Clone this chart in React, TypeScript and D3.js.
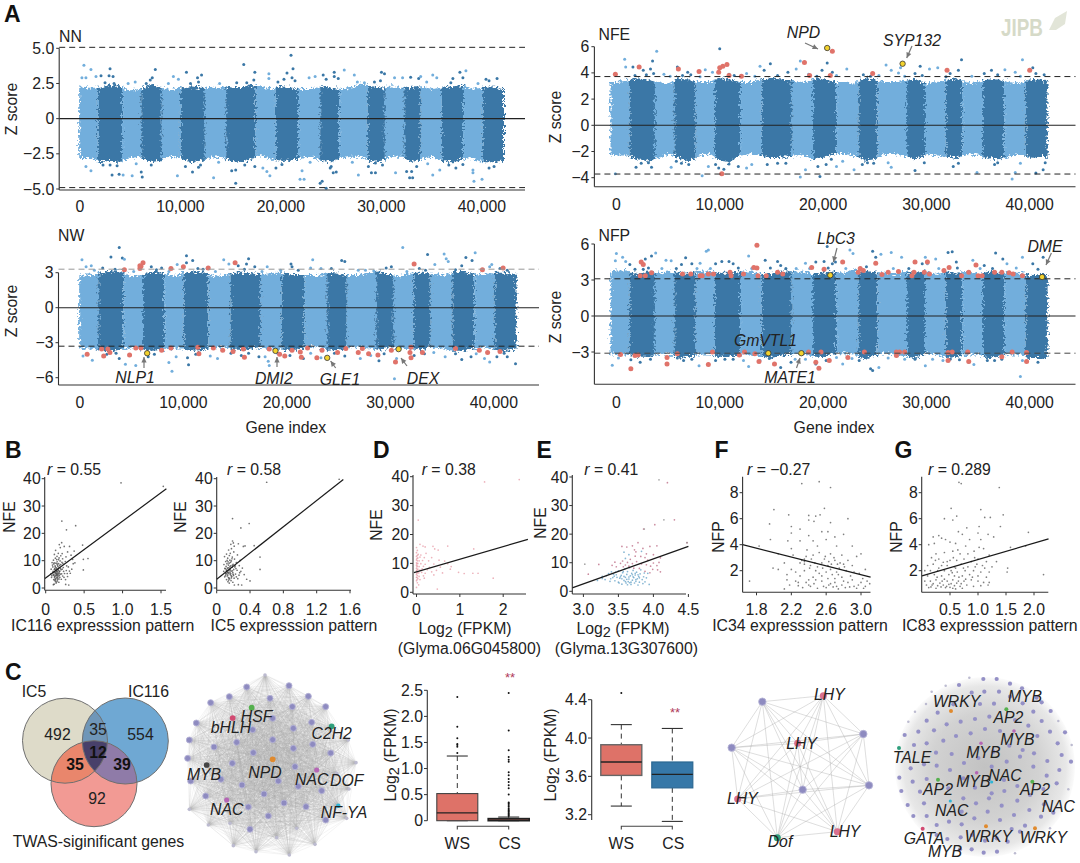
import React from "react";
import * as d3 from "d3";

type P = [number, number];
const SANS = '"Liberation Sans", Arial, sans-serif';
const INK = "#222";
const LIGHT = "#72aedc";
const DARK = "#3a77a6";
const RED = "#e0736a";
const YELLOW = "#f2d22e";

// ---- A: chromosome boundaries (gene index, thousands) ----
const chromLeft = [-0.07, 1.78, 4.2, 6.1, 8.15, 10.03, 12.43, 14.55, 17.47, 19.49, 21.71, 23.9, 25.79, 28.63, 30.34, 32.26, 33.9, 36, 38.12, 40.07, 42.19];
const chromRight = [-0.57, 1.27, 3.73, 5.6, 7.67, 9.53, 11.97, 14.07, 16.97, 19.03, 21.27, 23.43, 25.27, 28.13, 29.87, 31.87, 33.47, 35.47, 37.53, 39.6, 41.73];

// ---- band edge at each 1,000 genes ----
const nnTop = [2.3,2.2,2.2,2.4,2.3,2.0,2.1,2.4,2.2,2.1,2.2,2.3,2.2,2.2,2.2,2.3,2.2,2.4,2.3,2.1,2.3,2.2,2.1,2.1,2.3,2.2,2.1,2.2,2.5,2.3,2.2,2.3,2.2,2.2,2.3,2.1,2.2,2.3,2.4,2.1,2.2,2.3,2.1];
const nnBot = [-2.8,-2.8,-3.1,-3.0,-3.1,-2.8,-2.7,-3.1,-3.0,-2.7,-2.8,-3.1,-3.0,-2.8,-2.7,-3.0,-3.1,-2.9,-2.6,-2.9,-3.0,-3.0,-2.8,-2.7,-3.0,-3.1,-2.8,-2.7,-2.7,-3.1,-3.0,-2.7,-2.7,-3.1,-2.9,-2.7,-3.0,-3.1,-2.9,-2.8,-3.1,-3.1,-3.0];
const nfeTop = [3.3,3.4,3.6,3.5,3.3,3.2,3.6,3.5,3.3,3.3,3.6,3.5,3.3,3.3,3.5,3.6,3.5,3.4,3.3,3.5,3.6,3.3,3.3,3.2,3.6,3.5,3.3,3.3,3.4,3.5,3.2,3.3,3.5,3.6,3.2,3.3,3.5,3.5,3.3,3.2,3.5,3.5,3.3];
const nfeBot = [-2.3,-2.3,-2.6,-2.7,-2.5,-2.2,-2.5,-2.8,-2.3,-2.2,-2.7,-2.8,-2.3,-2.2,-2.3,-2.5,-2.5,-2.3,-2.3,-2.6,-2.5,-2.2,-2.2,-2.3,-2.7,-2.6,-2.2,-2.2,-2.4,-2.6,-2.2,-2.3,-2.4,-2.5,-2.2,-2.3,-2.5,-2.6,-2.4,-2.2,-2.5,-2.4,-2.4];
const nwTop = [2.7,2.8,3.0,3.1,3.1,2.7,2.8,3.1,3.0,2.7,3.0,3.1,3.0,2.7,2.8,3.0,3.0,2.9,2.9,3.0,2.9,2.8,2.8,2.8,3.0,2.9,2.8,2.8,3.0,3.1,2.8,2.7,3.0,3.0,2.9,2.8,3.0,3.1,2.9,2.8,3.0,3.0,2.9];
const nwBot = [-3.5,-3.5,-3.6,-3.7,-3.6,-3.4,-3.6,-3.7,-3.6,-3.5,-3.5,-3.7,-3.6,-3.4,-3.4,-3.6,-3.6,-3.4,-3.5,-3.6,-3.6,-3.6,-3.4,-3.4,-3.7,-3.6,-3.4,-3.4,-3.5,-3.6,-3.4,-3.5,-3.6,-3.6,-3.4,-3.5,-3.7,-3.7,-3.5,-3.4,-3.6,-3.7,-3.6];
const nfpTop = [3.8,3.8,3.5,3.7,3.6,3.7,3.6,3.5,3.7,3.7,3.6,3.6,3.7,3.7,3.5,3.5,3.7,3.7,3.7,3.5,3.6,3.7,3.6,3.9,3.7,3.7,3.6,3.5,3.7,3.6,3.7,3.5,3.7,3.6,3.7,3.5,3.7,3.6,3.6,3.6,3.4,3.5,3.5];
const nfpBot = [-3.2,-3.2,-3.4,-3.4,-3.2,-3.1,-3.5,-3.4,-3.2,-3.2,-3.4,-3.4,-3.2,-3.2,-3.4,-3.5,-3.3,-3.2,-3.1,-3.4,-3.4,-3.1,-3.1,-3.2,-3.6,-3.3,-3.1,-3.2,-3.4,-3.5,-3.1,-3.2,-3.5,-3.4,-3.2,-3.2,-3.5,-3.4,-3.2,-3.2,-3.5,-3.5,-3.5];

// ---- outlying genes [index in thousands, z] ----
const nnPts: P[] = [[0.4,3.8],[1.1,3.5],[3.0,3.55],[0.2,2.9],[0.6,2.9],[1.6,3.0],[2.1,3.05],[2.9,3.05],[3.3,3.0],[7.5,3.5],[7.2,2.9],[7.0,2.75],[9.3,3.0],[9.8,2.8],[10.6,3.3],[11.7,2.9],[12.1,3.1],[11.8,2.6],[16.3,3.85],[17.4,3.3],[17.3,2.75],[18.8,3.2],[18.8,2.85],[21.0,4.5],[21.2,3.55],[20.6,3.25],[20.3,2.8],[21.1,2.9],[21.4,2.7],[22.8,2.9],[23.4,3.0],[24.2,3.1],[24.5,2.8],[25.3,3.3],[25.3,3.0],[25.7,2.85],[26.3,3.45],[27.3,3.1],[30.0,3.3],[30.3,3.2],[29.9,2.7],[31.3,2.9],[32.1,2.9],[32.9,2.95],[33.9,3.0],[33.7,2.85],[35.1,3.1],[35.5,2.9],[37.1,2.85],[37.8,3.3],[38.4,3.4],[38.1,2.9],[40.4,2.8],[41.5,2.85],[40.7,2.7],[2.5,2.55],[3.4,2.5],[5.5,2.6],[4.8,2.5],[6.6,2.5],[8.8,2.5],[11.0,2.5],[13.9,2.5],[15.6,2.55],[16.6,2.55],[19.7,2.6],[27.6,2.6],[28.3,2.55],[29.3,2.6],[34.5,2.6],[36.9,2.55],[39.6,2.5],
[1.1,-3.7],[0.6,-3.4],[3.2,-4.0],[3.9,-3.95],[4.3,-4.0],[3.7,-3.35],[5.2,-4.05],[6.2,-4.15],[6.1,-3.8],[9.7,-4.05],[11.2,-3.8],[10.5,-3.4],[13.3,-4.2],[15.1,-3.7],[15.5,-3.65],[15.5,-4.6],[17.4,-3.4],[18.2,-3.5],[18.9,-4.05],[18.6,-3.75],[19.5,-3.5],[20.1,-3.25],[21.9,-4.3],[22.3,-4.3],[22.1,-3.7],[24.1,-4.45],[23.9,-4.6],[24.5,-4.95],[25.2,-3.85],[25.5,-3.8],[25.0,-3.4],[27.7,-4.0],[29.0,-3.85],[29.4,-3.85],[28.7,-3.4],[29.4,-3.15],[31.4,-3.85],[32.8,-4.2],[33.1,-4.2],[32.5,-3.75],[33.0,-3.75],[33.5,-3.4],[35.1,-4.0],[35.8,-3.65],[37.4,-3.5],[38.1,-3.25],[39.1,-3.65],[39.2,-4.45],[40.0,-4.3],[39.1,-3.85],[40.7,-3.5],[41.2,-3.4],[2.3,-3.3],[3.0,-3.3],[5.6,-3.2],[7.1,-3.3],[11.8,-3.45],[12.0,-3.3],[13.8,-3.1],[16.4,-3.3],[22.9,-3.1],[24.9,-3.5],[27.1,-3.1],[30.1,-3.3],[34.6,-3.2],[36.7,-3.3]];
const nfePts: P[] = [[0.8,5.05],[3.9,5.65],[3.5,4.9],[10,5.85],[14.9,4.7],[13.9,4.5],[17.8,4.9],[17.4,4.3],[20.4,4.75],[19.9,4.2],[20.9,4.05],[22.3,4.3],[26.1,4.6],[26.6,4.2],[27.3,4.0],[27.5,4.4],[29.4,4.5],[30.3,4.3],[31.1,4.4],[33.4,5.0],[39.3,5.0],[37.6,4.25],[38.6,4.05],[0.9,4.45],[1.6,4.45],[2.6,4.2],[3.3,4.3],[3.6,3.95],[5.9,4.45],[6.9,4.05],[8.6,4.25],[9.3,4.05],[14.3,4.2],[16.6,4.05],[32.3,3.95],[33.1,4.2],[35.6,3.95],[36.3,4.2],[40.3,4.4],[40.6,3.95],[41.4,3.85],[4.6,3.9],[12.6,3.95],[23.9,3.85],[28.9,3.95],[1.8,3.8],[2.9,3.85],[5.2,3.75],[6.4,3.8],[7.2,3.85],[8.1,3.7],[10.9,3.9],[11.4,3.8],[13.4,3.75],[15.6,3.8],[18.6,3.9],[19.4,3.75],[21.3,3.8],[24.6,3.75],[25.4,3.8],[27.9,3.75],[29.6,3.8],[31.9,3.7],[34.4,3.75],[36.9,3.85],[39.1,3.75],
[-0.1,-3.7],[1.9,-3.2],[3.4,-3.2],[5.3,-3.2],[5.8,-2.75],[8.3,-3.85],[8.9,-3.15],[9.6,-3.0],[9.9,-3.25],[10.4,-3.35],[11.8,-3.15],[12.6,-3.25],[13.1,-3.0],[14.6,-3.0],[15.6,-2.9],[17.8,-3.95],[18.3,-3.4],[19.7,-3.9],[19.5,-3.15],[20.3,-3.0],[21.3,-3.15],[21.9,-2.75],[23,-3.4],[23.8,-3.0],[24.3,-2.85],[26.3,-2.85],[26.6,-3.2],[28.9,-3.45],[29.8,-2.85],[32.6,-3.15],[33.1,-2.9],[34.9,-3.6],[36.6,-3.0],[38.3,-4.1],[38.6,-3.6],[40.6,-3.65],[41.3,-3.4],[41.5,-2.85],[39.1,-2.9],[2.4,-2.9],[3.1,-2.85],[6.3,-2.9],[7.0,-3.0],[10.9,-2.95],[16.4,-2.9],[20.8,-2.6],[24.9,-2.9],[36.9,-2.85]];
const nwPts: P[] = [[0.2,4.1],[3.8,5.15],[3,4.35],[4.1,4.25],[4.3,4.15],[2.2,3.4],[0.6,3.5],[1.1,3.6],[10.3,4.45],[10.9,4.05],[10.3,3.85],[9.4,3.7],[11.4,3.35],[13.9,4.1],[14.4,3.75],[16.3,4.2],[16.1,3.75],[15.3,3.6],[18.1,3.5],[20.4,3.75],[20.5,3.5],[22.5,4.1],[22.3,3.4],[25.3,4.05],[25.6,3.95],[26.9,3.2],[31.2,5.15],[33.6,4.55],[35.2,4.6],[35.4,4.2],[35.6,3.95],[37.3,4.3],[38.2,4.7],[37.9,4.05],[39.6,3.5],[39.8,3.7],[36.9,3.6],[34.3,3.7],[29.6,3.4],[30.1,3.5],[32.8,3.35],[40.6,3.35],[7.9,3.4],[6.9,3.5],[12.3,3.35],[16.9,3.5],[23.3,3.35],[24.3,3.35],[27.6,3.2],[1.4,3.2],[3.4,3.3],[5.2,3.1],[7.4,3.25],[8.6,3.1],[11.9,3.3],[13.1,3.1],[15.9,3.3],[17.6,3.1],[19.4,3.2],[21.1,3.2],[28.4,3.15],[31.6,3.1],[33.4,3.2],[36.3,3.25],[41.3,3.2],
[1.2,-4.5],[0.3,-4.15],[3.8,-4.35],[4.4,-4.85],[5.4,-4.95],[6.6,-4.2],[8.9,-5.45],[8.6,-4.7],[9.3,-4.2],[10.4,-4.3],[10.5,-4.9],[13.3,-4.35],[12.6,-4.15],[15.6,-4.1],[17.3,-4.2],[17.9,-4.2],[18.2,-4.6],[18.3,-4.95],[20.3,-4.1],[21.6,-4.35],[23.3,-4.3],[27.1,-4.35],[28.9,-4.55],[30.4,-6.1],[30.6,-4.35],[32.3,-4.1],[33.3,-3.95],[35.3,-4.2],[36.9,-4.45],[37.8,-4.2],[39.1,-4.35],[39.6,-4.65],[40.3,-4.2],[42.1,-4.8],[41.3,-4.2],[38.3,-3.95],[25.6,-4.15],[28.1,-4.1],[2.6,-4.0],[3.5,-3.9],[7.2,-4.0],[11.2,-4.0],[14.6,-3.9],[16.3,-3.9],[19.1,-3.9],[22.3,-3.9],[24.6,-3.9],[29.4,-3.95],[34.2,-3.85],[36.3,-3.95],[41.0,-3.9]];
const nfpPts: P[] = [[0,5.2],[0.6,4.9],[-0.1,4.6],[0.9,4.55],[2.8,4.75],[3.8,5.25],[3.4,5.0],[1.3,4.3],[2.6,3.9],[4.8,4.65],[5.3,4.6],[6.3,4.3],[6.7,4.85],[7.3,4.35],[8.7,5.4],[8.9,5.5],[8.1,4.4],[9.6,4.35],[10.2,4.55],[10.9,4.55],[11.3,4.35],[12.8,5.0],[14.4,4.65],[15.6,4.55],[15.9,4.2],[18.3,4.4],[19.3,4.5],[20.4,5.8],[20.1,4.55],[20.9,4.35],[21.2,4.5],[22.6,5.5],[22.9,5.2],[24.8,5.4],[25.1,4.9],[25.6,5.15],[26.6,5.3],[27.6,4.9],[29.6,4.35],[30.1,4.35],[29.9,4.9],[30.9,4.75],[32.1,5.3],[32.5,5.35],[32.9,4.5],[34.5,4.65],[35.6,4.2],[36.7,5.25],[37.4,4.75],[37.8,4.35],[39.3,4.9],[40.3,4.35],[41.3,4.9],[1.8,3.9],[3.1,4.0],[4.4,3.95],[5.8,3.95],[7.8,3.95],[9.1,3.95],[11.8,4.0],[13.1,3.95],[14.9,4.0],[16.4,3.95],[17.4,3.95],[18.7,3.95],[20.5,4.0],[22.2,3.95],[24.2,4.1],[26.8,3.95],[28.3,3.95],[31.2,3.95],[33.0,4.0],[35.2,3.95],[36.4,3.95],[38.7,4.0],[40.8,3.9],
[-0.4,-4.1],[0.2,-3.5],[1.4,-3.65],[2.3,-3.85],[3.3,-3.6],[4.9,-4.0],[5.9,-3.5],[8,-4.15],[8.9,-4.0],[9.6,-3.7],[11.3,-3.6],[12.3,-3.7],[12.8,-4.2],[13.9,-3.7],[15.3,-4.0],[15.9,-4.3],[16.9,-3.85],[18.3,-3.6],[19.3,-4.0],[20.3,-3.7],[21.3,-3.45],[21.9,-4.0],[24.6,-4.4],[24.8,-4.55],[25.4,-4.3],[27.9,-3.6],[28.9,-3.6],[29.9,-4.15],[31.6,-3.7],[32.3,-3.6],[34.1,-3.85],[34.6,-4.05],[35.9,-3.7],[37.3,-3.6],[39.1,-5.05],[39.3,-3.7],[40.8,-3.85],[41.3,-3.45],[6.5,-3.7],[7.3,-3.6],[10.5,-3.6],[14.8,-3.55],[17.3,-3.6],[22.8,-3.55],[23.5,-3.7],[26.3,-3.5],[30.6,-3.6],[33.2,-3.65],[36.6,-3.7]];

const nfeRed: P[] = [[-0.1,3.9],[2.2,4.45],[6,4.3],[8,4.1],[10,4.4],[9.9,4.05],[10.3,4.5],[10.7,4.65],[10.9,3.8],[12.1,3.75],[18.2,4.8],[18.7,3.8],[20.7,3.8],[20.9,5.65],[24.8,3.95],[32,4.2],[40,4.2],[10.2,-3.7]];
const nwRed: P[] = [[4.3,3.25],[5.8,3.35],[5.9,3.55],[6.1,3.85],[5.8,3.6],[8.8,3.35],[10,3.5],[12.4,3.4],[15,3.85],[32.3,3.75],[38.9,3.25],[40.9,3.4],[0.7,-4],[2.3,-4.15],[2.1,-3.55],[2.7,-3.55],[2.9,-3.85],[4.8,-4.05],[5.4,-3.45],[5.9,-3.45],[7.9,-3.65],[8.8,-3.45],[11.4,-3.4],[11.5,-3.95],[12.9,-3.45],[13.8,-3.65],[14.8,-3.75],[15.8,-3.55],[15.9,-4.25],[18.3,-3.55],[19.3,-4.0],[19.8,-4.15],[20.5,-3.65],[21.3,-3.8],[21.4,-4.25],[22,-3.45],[22.9,-4.3],[23.4,-3.65],[24.9,-3.85],[25.7,-3.5],[26.9,-3.85],[27.3,-3.5],[27.9,-3.95],[28.8,-4.05],[30.1,-3.65],[30.5,-4.65],[31.9,-3.85],[32,-3.4],[32,-4.3],[33.1,-3.85],[36.3,-3.5],[38.6,-3.65],[39.4,-3.85],[40.6,-3.75]];
const nfpRed: P[] = [[13.6,5.9],[1.4,-4.4],[2.4,4.5],[2.6,4.3],[2.3,3.35],[2.8,3.35],[3.4,3.6],[6.4,3.5],[7.2,3.5],[8.1,3.35],[8.3,3.35],[8.9,3.5],[9.4,3.5],[11,3.65],[11.1,3.35],[12.3,3.5],[13.3,4.05],[13.6,4.0],[13.7,3.35],[14.5,3.35],[15.6,3.65],[16.1,3.5],[18.9,4.05],[20.1,3.9],[21.9,4.5],[23.6,3.95],[23.4,3.65],[23.9,3.8],[25.7,3.45],[25.1,4.4],[26.3,3.65],[27.3,3.7],[28.9,4.5],[28.8,3.65],[28.6,3.35],[30.1,4.5],[29.8,3.65],[30.3,3.5],[31.7,3.8],[32.2,4.05],[33.4,3.35],[34.1,3.65],[34.8,4.25],[35,3.35],[35.4,3.35],[36.6,3.65],[37.3,3.65],[38,3.6],[38.4,3.5],[39.3,3.35],[0.4,-3.2],[1.8,-3.3],[2.1,-3.25],[4.9,-3.45],[4.9,-4.0],[5.9,-3.15],[8.9,-4.05],[9.3,-3.0],[11.9,-3.25],[12.4,-3.0],[13.4,-3.15],[13.8,-3.8],[15.3,-4.0],[18.6,-3.0],[19.3,-3.85],[19.6,-4.35],[20.6,-3.7],[19.8,-3.0],[22.4,-3.45],[24,-3.0],[27.1,-3.0],[27.4,-3.0],[27.9,-3.0],[27.1,-3.3],[32.1,-3.05],[32.1,-3.7],[32.5,-3.0],[34,-3.0],[34.1,-3.8],[37.3,-3.4],[38.3,-3.0],[39.7,-3.05],[39.7,-3.8]];
const nfeGold: P[] = [[20.4,5.9],[27.7,4.7]];
const nwGold: P[] = [[6.5,-3.9],[18.9,-3.7],[23.9,-4.3],[30.8,-3.55]];
const nfpGold: P[] = [[20.7,3.4],[41.2,3.25],[14.7,-3.1],[17.9,-3.1]];

// ---- B, D, E, F, G scatter values ----
const b1Pts: P[] = [[.21,24.5],[.27,21.3],[.39,22.8],[.98,38.5],[1.53,37.2],[.48,15.7],[.55,10.8],[.49,10.5],[.49,6.6],[.3,1.1],[.26,1.3],[.1,1.2],[.137,6.3],[.162,5.1],[.093,7.7],[.211,9.4],[.118,4.2],[.174,3.3],[.148,8.8],[.067,5.2],[.233,6.1],[.126,10.9],[.189,7.2],[.104,3.1],[.151,4.7],[.083,9.3],[.273,8.1],[.141,2.2],[.196,11.8],[.112,6.8],[.158,7.9],[.221,4.4],[.131,5.6],[.176,5.9],[.098,4.9],[.164,12.7],[.245,5.3],[.122,8.1],[.143,3.7],[.187,9.9],[.071,6.9],[.203,3.2],[.155,6.6],[.116,2.9],[.309,6.2],[.129,13.8],[.178,4.6],[.108,5.7],[.167,10.4],[.255,9.7],[.137,7.4],[.152,2.6],[.088,8.4],[.199,6.7],[.124,4.5],[.182,8.3],[.146,5.2],[.101,10.2],[.229,7.5],[.171,2.1],[.133,9.1],[.284,4.2],[.159,5.5],[.119,7.1],[.192,5.1],[.076,3.9],[.147,11.6],[.214,12.6],[.127,3.4],[.169,6.4],[.339,6.9],[.106,8.8],[.184,3.9],[.141,6],[.258,3.1],[.096,6.1],[.153,8.4],[.121,5.1],[.173,7.6],[.207,5.2],[.135,1.8],[.113,12.3],[.264,11.4],[.149,4.1],[.19,14.8],[.161,6.9],[.128,6.6],[.144,5],[.175,5.3],[.115,3.8],[.223,9],[.156,3.2],[.208,16.6],[.241,15.2],[.177,15.9],[.31,15.2],[.285,13.2],[.358,8.9],[.33,12],[.37,13.5],[.295,7.7],[.32,5.4],[.11,1.4],[.134,5.4],[.152,6],[.117,5.9],[.166,4.4],[.139,4.6],[.125,7.7],[.158,3.7],[.104,4.6],[.183,6.1],[.145,7],[.13,3],[.168,8.9],[.214,6.9],[.094,5.6],[.238,3.9],[.126,2.4],[.196,8.6],[.149,9.6],[.11,9.2],[.268,6.4],[.08,4.5],[.143,10.4],[.174,11],[.22,10.7],[.35,10.5],[.38,9.2],[.28,5.3]];
const b2Pts: P[] = [[.6,38.7],[1.47,39.8],[.19,25.4],[.39,23.6],[.29,22],[.45,15.5],[.32,15.2],[.26,16.2],[.34,15.4],[.19,17.2],[.2,16.5],[.17,16],[.21,15.3],[.52,11.3],[.52,6.8],[.4,2.6],[.26,1.2],[.3,1.1],[.177,14.4],[.143,13.9],[.205,13.2],[.118,12.4],[.163,12.7],[.249,12.1],[.187,11.3],[.094,11.5],[.132,10.9],[.214,10.6],[.158,10.2],[.282,10.1],[.108,9.7],[.176,9.9],[.123,8.9],[.236,9.3],[.149,9.1],[.197,8.7],[.087,8.6],[.271,8.2],[.166,8.1],[.113,7.9],[.218,7.7],[.139,7.4],[.186,7.6],[.098,7.2],[.308,7.3],[.154,6.9],[.121,6.6],[.204,6.8],[.174,6.2],[.245,6.5],[.131,5.9],[.084,6.1],[.193,5.6],[.147,5.4],[.109,5.3],[.226,5.1],[.162,4.9],[.268,4.7],[.127,4.4],[.182,4.2],[.141,3.8],[.096,4.1],[.209,3.6],[.155,3.3],[.118,3.1],[.253,3.4],[.172,2.7],[.135,2.3],[.194,2.1],[.151,1.8],[.212,1.1],[.128,7.3],[.168,5.3],[.146,6.4],[.112,5.1],[.189,6.3],[.133,4.8],[.158,7.7],[.104,7],[.202,4.6],[.176,3.7],[.141,8.4],[.166,9.4],[.125,10.1],[.183,10.7],[.221,8.1],[.29,6.1],[.33,4.9],[.36,3.2],[.159,5.8],[.116,6.3],[.138,5.6],[.173,4.5],[.149,3.6],[.124,5.5],[.197,5],[.105,4.5],[.231,7.1],[.162,6.6],[.187,8.3],[.136,9.6],[.152,11.9],[.236,4.1],[.276,5.6],[.144,2.9]];
const dPts: P[] = [[.04,25],[1.57,38.2],[2.37,39],[.0,15.5],[.08,16.6],[.15,16],[.2,15.7],[.38,15.9],[.42,15],[.72,16],[.5,14.6],[1.32,15],[.02,14.5],[.0,13.7],[.04,13.1],[.1,12.9],[.22,13.5],[.0,12.4],[.03,11.9],[.08,12.2],[.18,12],[.35,12],[.0,11.2],[.02,10.9],[.06,10.9],[.14,11],[.28,10.9],[.52,11.1],[.65,10.8],[.0,10.2],[.03,10],[.1,9.9],[.2,9.7],[.4,9.8],[.72,9.9],[.0,9.4],[.02,9.1],[.06,8.9],[.16,9],[.3,8.6],[.55,8.7],[.8,8.9],[.0,8.3],[.03,8],[.08,7.7],[.13,8.1],[.25,7.8],[.46,7.6],[.78,8],[.0,7.4],[.02,7],[.05,6.7],[.12,6.9],[.2,6.6],[.35,7.1],[.6,6.7],[.97,6.9],[1.1,6.5],[1.42,6.6],[.0,6.2],[.02,5.8],[.06,5.5],[.16,5.7],[.4,6],[.0,5.2],[.03,4.7],[.08,4.4],[.18,4.9],[1.77,4.9],[1.3,6.6],[.0,4],[.02,3.3],[.05,2.6],[.0,1.7],[.48,1.1],[.01,8.8],[.01,9.9],[.01,6.6],[.01,11.7],[.01,5.1],[.01,7.7],[.02,12.8],[.01,4.3]];
const eBlue: P[] = [[3.27,4.5],[3.33,5.5],[3.36,6.2],[3.4,6.8],[3.42,4.8],[3.45,3.7],[3.47,5.8],[3.5,7.2],[3.5,3.2],[3.52,4.6],[3.54,5.6],[3.55,2.5],[3.56,6.5],[3.58,3.8],[3.59,7.8],[3.6,4.9],[3.61,2.9],[3.62,5.9],[3.63,6.9],[3.64,3.4],[3.65,4.3],[3.66,8.3],[3.67,5.4],[3.68,2.4],[3.69,6.3],[3.7,3.9],[3.71,7.3],[3.72,4.8],[3.73,2.9],[3.74,5.7],[3.75,3.5],[3.76,6.7],[3.77,4.4],[3.78,2.2],[3.79,5.2],[3.8,3.2],[3.81,6.1],[3.82,7.5],[3.84,4.1],[3.85,2.7],[3.86,5.1],[3.88,3.3],[3.9,4.7],[3.92,6.3],[3.94,2.4],[3.55,4.4],[3.6,3.4],[3.65,5],[3.7,5.8],[3.75,4.1],[3.8,4.7],[3.48,4.9],[3.43,6],[3.58,5.2],[3.68,3.2],[3.2,3.8],[3.27,5.2],[3.6,11.5],[3.65,12.8],[3.58,13.7],[3.83,14],[3.31,4.1],[3.38,3.5],[3.44,5.3],[3.51,2.9],[3.57,6.9],[3.62,4.2],[3.66,3],[3.71,5.1],[3.74,6.3],[3.53,5.1],[3.46,6.7],[3.39,4.4],[3.63,2.3],[3.78,5.8],[3.87,6.4]];
const ePink: P[] = [[3.53,9.8],[3.47,8.6],[3.41,9.1],[3.45,10.2],[3.6,9.2],[3.63,10.1],[3.56,10.6],[3.67,11.2],[3.7,9.7],[3.74,12.3],[3.76,10.4],[3.73,14.5],[3.7,15.9],[3.78,17],[3.75,13.8],[3.85,15],[3.82,12.2],[3.88,11.8],[3.92,10.9],[3.96,8.8],[3.9,9.3],[4.0,9.9],[4.05,9],[4.08,10.1],[4.05,15.9],[4.1,11.7],[3.99,7.7],[4.06,7.5],[3.88,7],[3.95,6.5],[4.1,6.8],[3.62,15.5],[3.55,15.7],[3.86,21.8],[4.02,23.3],[4.3,25],[4.2,38],[4.48,17],[3.07,6],[3.22,9.4],[3.8,8],[3.57,8.6],[3.65,8.8],[3.72,8.1],[3.83,9.6],[3.9,13.1],[4.0,12.8],[3.95,15.7]];
const eGrey: P[] = [[4.08,39],[3.87,21.8],[4.15,25],[4.48,17],[3.02,9.5]];
const fPts: P[] = [[2.32,8.7],[2.52,8.85],[2.65,8.4],[2.0,6.7],[1.95,5.6],[2.17,6.3],[2.4,6.25],[2.48,6.2],[2.53,6.3],[2.58,6.8],[2.46,5.8],[2.4,5.9],[2.65,5.7],[2.85,6.0],[2.3,5.2],[2.55,5],[2.62,5.0],[2.2,4.9],[2.4,4.7],[2.7,4.6],[2.8,4.8],[1.83,3.9],[1.96,4.4],[2.16,4.3],[2.3,4.3],[2.45,4.3],[2.6,4.4],[2.72,3.9],[2.9,3.9],[3.0,3.3],[2.2,3.7],[2.38,3.6],[2.5,3.9],[2.65,3.3],[2.78,3.2],[2.95,3.1],[2.05,3.3],[2.22,3.2],[2.35,2.9],[2.45,3.2],[2.58,2.9],[2.7,2.8],[2.85,2.8],[2.12,2.6],[2.3,2.6],[2.42,2.4],[2.55,2.6],[2.62,2.4],[2.75,2.2],[2.9,2.4],[3.05,2.1],[2.05,2.1],[2.2,2.1],[2.35,2.0],[2.48,2.0],[2.6,1.9],[2.72,1.9],[2.83,2.0],[2.98,1.8],[2.15,1.7],[2.3,1.6],[2.45,1.5],[2.55,1.6],[2.67,1.7],[2.78,1.5],[2.88,1.6],[3.02,1.4],[1.72,1.2],[2.15,1.3],[2.25,1.2],[2.37,1.1],[2.46,1.0],[2.55,1.2],[2.63,0.9],[2.7,1.1],[2.78,0.9],[2.85,1.1],[2.92,0.8],[3.0,1.1],[3.05,0.8],[3.1,1.0],[2.18,0.9],[2.28,0.85],[2.33,0.7],[2.42,0.8],[2.5,0.65],[2.6,0.7],[2.68,0.75],[2.74,0.6],[2.82,0.7],[2.95,0.65],[2.12,0.6],[2.4,1.3],[2.7,1.4],[2.9,1.3],[2.5,2.3],[2.35,2.7],[2.8,2.5],[2.65,2.1],[2.25,1.9],[2.32,2.8],[2.35,2.5],[2.37,3.1],[2.41,2.2],[2.43,2.9],[2.47,2.6],[2.52,3.4],[2.56,2.2],[2.59,3.1],[2.63,2.7],[2.66,2.5],[2.69,3.0],[2.73,2.5],[2.76,2.6],[2.81,2.3],[2.28,1.1],[2.4,0.9],[2.48,1.3],[2.57,0.8],[2.65,1.0],[2.72,0.8],[2.8,1.2],[2.87,0.75],[2.97,0.9],[3.03,0.65],[3.07,1.2],[2.52,1.8],[2.62,1.4],[2.74,1.7],[2.92,1.9],[2.2,5.4],[1.99,2.2]];
const gPts: P[] = [[.66,8.8],[.7,8.7],[1.38,8.4],[.52,6.8],[.55,5.9],[.4,6],[.62,6.2],[1.05,6.7],[1.12,6.1],[1.22,6.1],[1.45,6.3],[1.4,5.4],[1.02,5.4],[.8,5.3],[.65,5],[1.0,4.9],[.72,4.8],[.3,4.7],[.2,4.6],[.35,4.5],[.42,4.4],[.12,4.0],[.22,4.1],[.5,4.2],[.6,4.1],[1.18,4.8],[1.28,4.6],[1.9,4.95],[.85,4.4],[1.05,4.4],[.78,3.9],[1.02,3.8],[.93,3.5],[1.1,3.7],[1.58,3.8],[1.85,3.9],[.25,3.3],[.4,3.4],[.55,3.5],[.68,3.3],[.82,3.3],[1.2,3.2],[.17,3],[.3,2.9],[.5,2.8],[.62,2.8],[.75,2.9],[.88,2.7],[1.0,2.9],[1.15,2.7],[1.33,2.7],[.1,2.4],[.2,2.5],[.35,2.4],[.45,2.4],[.58,2.3],[.7,2.5],[.82,2.3],[.95,2.3],[1.08,2.4],[1.25,2.3],[1.53,2.2],[.05,2.0],[.15,2.0],[.28,2.0],[.4,2.0],[.52,2.0],[.63,1.9],[.77,2.0],[.92,2.0],[1.05,1.9],[1.2,1.9],[1.52,1.9],[.1,1.6],[.22,1.7],[.35,1.6],[.48,1.7],[.58,1.6],[.72,1.6],[.85,1.7],[1.0,1.6],[1.15,1.5],[2.17,1.7],[.05,1.2],[.15,1.2],[.25,1.3],[.36,1.2],[.45,1.2],[.55,1.3],[.65,1.2],[.75,1.2],[.88,1.3],[1.0,1.2],[1.1,1.1],[1.2,1.1],[.08,.9],[.18,.9],[.28,.85],[.38,.9],[.48,.95],[.58,.85],[.68,.8],[.8,.9],[.92,.8],[1.05,.85],[1.18,.9],[.12,.7],[.25,.65],[.42,.7],[.55,.65],[.72,.65],[.6,.6],[.2,1.0],[.32,1.05],[.44,.8],[.52,1.0],[.62,1.05],[.7,1.0],[.16,.75],[.34,.75],[.5,.72],[.27,1.5],[.4,1.35],[.54,1.85],[.6,2.2],[.66,1.5],[.74,2.2],[.9,1.5],[.98,2.5],[.45,2.7],[.56,3.0],[.94,3.0],[1.12,2.2],[.3,2.2],[.38,2.65],[.24,2.8],[.64,3.6],[.78,1.35]];

const lineB1: P[] = [[-0.01,3.5],[1.57,36.3]];
const lineB2: P[] = [[0,3.2],[1.52,39.7]];
const lineD: P[] = [[-0.06,6.8],[2.57,18.3]];
const lineE: P[] = [[2.84,1.2],[4.5,15.7]];
const lineF: P[] = [[1.64,4.0],[3.11,1.5]];
const lineG: P[] = [[0,1.6],[2.26,4.45]];

// ---- C: box plots ----
const boxLeftWS = { q1: 0, med: 0.15, q3: 0.52, lo: 0, hi: 1.24 };
const boxLeftCS = { q1: 0, med: 0.01, q3: 0.04, lo: 0, hi: 0.07 };
const boxRightWS = { q1: 3.61, med: 3.75, q3: 3.93, lo: 3.29, hi: 4.14 };
const boxRightCS = { q1: 3.48, med: 3.62, q3: 3.75, lo: 3.13, hi: 4.1 };
const outLeftWS = [2.37, 1.8, 1.58, 1.47, 1.45, 1.42, 1.3];
const outLeftCS = [2.45, 1.73, 1.35, 1.22, 1.17, 1.13, 0.93, 0.87, 0.8, 0.74, 0.68, 0.62, 0.5, 0.35, 0.33, 0.3, 0.27, 0.24, 0.21, 0.19, 0.17, 0.15, 0.13, 0.11, 0.09];
const outRightWS = [4.47];

// ---- C: network layouts (layout units; colour key) ----
type N = [number, number, string];
const net1Nodes: N[] = [[795,60,"o"],[740,96,"i"],[867,92,"i"],[688,125,"i"],[810,130,"i"],[925,124,"i"],[632,143,"i"],[755,158,"g"],[877,155,"i"],[977,155,"i"],[698,189,"r"],[818,190,"i"],[589,204,"i"],[935,202,"i"],[995,214,"t"],[758,224,"i"],[880,220,"i"],[568,255,"i"],[642,276,"i"],[710,262,"i"],[818,254,"i"],[938,268,"i"],[1045,255,"o"],[880,280,"i"],[563,310,"i"],[760,293,"i"],[992,294,"i"],[818,313,"y"],[697,325,"i"],[620,330,"k"],[885,335,"i"],[1068,323,"o"],[950,345,"m"],[1010,355,"o"],[572,378,"i"],[663,373,"i"],[835,378,"i"],[726,390,"i"],[895,394,"i"],[1047,402,"o"],[965,407,"i"],[617,423,"i"],[792,417,"i"],[680,435,"m"],[745,456,"i"],[852,444,"i"],[918,455,"i"],[1015,452,"c"],[568,463,"o"],[805,483,"i"],[977,495,"i"],[625,510,"o"],[690,505,"o"],[890,520,"o"],[750,523,"i"],[830,548,"o"],[700,572,"o"],[768,590,"o"],[868,600,"o"],[945,568,"o"],[1040,490,"o"]];
const net2Nodes: N[] = [[187,140,"i"],[370,122,"p"],[490,237,"i"],[95,278,"i"],[293,265,"p"],[507,391,"i"],[308,404,"i"],[113,432,"p"],[232,548,"t"],[412,530,"p"]];
const net3Nodes: N[] = [[808,68,"o"],[850,72,"n"],[890,72,"n"],[737,92,"o"],[777,90,"n"],[930,86,"n"],[966,100,"n"],[815,113,"n"],[853,110,"n"],[897,110,"n"],[695,110,"o"],[930,125,"n"],[968,145,"n"],[1010,128,"n"],[678,147,"o"],[760,148,"n"],[840,147,"n"],[882,146,"n"],[1025,142,"n"],[713,173,"n"],[1000,170,"n"],[1052,168,"n"],[645,170,"o"],[753,168,"y"],[919,163,"g"],[625,200,"o"],[680,197,"n"],[740,208,"n"],[782,200,"n"],[825,192,"n"],[868,185,"n"],[945,195,"n"],[985,212,"n"],[1025,198,"n"],[1075,198,"o"],[614,240,"n"],[655,230,"n"],[702,226,"n"],[768,243,"n"],[812,235,"n"],[855,222,"n"],[900,228,"n"],[942,228,"m"],[1012,243,"n"],[1050,230,"n"],[1095,232,"n"],[642,270,"n"],[680,265,"n"],[730,257,"n"],[843,265,"m"],[928,272,"n"],[968,285,"n"],[1073,265,"n"],[1115,270,"o"],[708,293,"n"],[755,297,"n"],[880,290,"n"],[960,305,"n"],[1002,295,"n"],[1042,318,"n"],[1085,300,"n"],[1113,320,"n"],[632,340,"n"],[672,328,"n"],[710,332,"n"],[792,324,"n"],[835,309,"n"],[875,335,"n"],[920,320,"n"],[1000,335,"n"],[1078,345,"n"],[598,368,"n"],[638,380,"n"],[680,372,"n"],[750,345,"n"],[790,370,"n"],[830,353,"m"],[912,375,"n"],[1040,362,"n"],[1070,385,"n"],[1105,403,"o"],[604,408,"n"],[660,410,"n"],[745,400,"n"],[825,398,"n"],[875,415,"n"],[913,408,"n"],[952,393,"n"],[990,420,"n"],[1030,402,"n"],[623,450,"n"],[672,445,"n"],[790,430,"n"],[828,445,"n"],[867,430,"n"],[905,452,"n"],[952,437,"n"],[988,465,"n"],[1032,448,"n"],[1060,473,"n"],[640,483,"n"],[680,483,"n"],[785,470,"n"],[823,490,"n"],[863,470,"n"],[900,495,"n"],[942,480,"n"],[1023,485,"n"],[710,510,"n"],[747,500,"n"],[785,508,"n"],[935,522,"n"],[975,512,"n"],[1050,520,"o"],[710,540,"n"],[742,552,"n"],[782,547,"n"],[816,540,"n"],[855,557,"n"],[890,550,"n"],[923,560,"n"],[960,530,"n"],[780,583,"n"],[815,583,"n"],[851,593,"n"],[891,590,"n"],[945,595,"o"],[597,279,"t"],[714,374,"g"],[875,381,"c"],[997,380,"g"],[751,438,"c"],[668,521,"r"],[858,514,"y"],[1005,520,"y"]];
const net1Labels: [string, number, number][] = [["HSF",770,185],["bHLH",693,218],["C2H2",995,235],["MYB",612,358],["NPD",795,352],["NAC",935,372],["DOF",1040,375],["NF-YA",1032,472],["NAC",680,462]];
const net2Labels: [string, number, number][] = [["LHY",388,118],["LHY",305,265],["LHY",127,430],["Dof",240,558],["LHY",435,530]];
const net3Labels: [string, number, number][] = [["WRKY",770,140],["MYB",975,125],["AP2",925,187],["MYB",952,252],["MYB",850,292],["TALE",636,308],["NAC",915,360],["MYB",820,380],["AP2",714,403],["AP2",1005,403],["NAC",755,467],["NAC",1075,453],["GATA",672,550],["WRKY",865,543],["WRKY",1030,548],["MYB",735,590]];
const nodeFill: Record<string, string> = { i: "#8e8bc0", o: "#bcbbd0", n: "#9490c6", g: "#55b04e", r: "#d24a72", t: "#2f9f7c", y: "#e08a2e", k: "#444", m: "#b565b5", c: "#2fb4d6", p: "#d9708f" };
const nodeScale: Record<string, number> = { o: 0.6, i: 1, n: 1, c: 0.75, m: 0.85 };

const T = (p: any) => <text fontFamily={SANS} fill={INK} {...p} />;
const FS = 15.8;

function Manhattan(o: any) {
  const x = d3.scaleLinear([0, 40], o.xr);
  const y = d3.scaleLinear(o.yd, o.yr);
  const xs = [-1, ...d3.range(0, 43), 43];
  const tops = [o.top[0], ...o.top, o.top[42]];
  const bots = [o.bot[0], ...o.bot, o.bot[42]];
  const area = d3.area<number>().x((d) => x(d)).y0((_, i) => y(bots[i])).y1((_, i) => y(tops[i]))(xs as any)!;
  const colorAt = (v: number) => (Math.max(0, d3.bisectRight(o.bounds, v) - 1) % 2 === 1 ? DARK : LIGHT);
  const bottom = o.axisY;
  return (
    <g>
      <clipPath id={o.id}><path d={area} /></clipPath>
      <g filter="url(#rough)">
        <g clipPath={`url(#${o.id})`}>
          {o.bounds.slice(0, -1).map((b: number, i: number) => (
            <rect key={i} x={x(b)} width={x(o.bounds[i + 1]) - x(b)} y={y(o.yd[0]) - 5} height={bottom - y(o.yd[0]) + 10} fill={i % 2 ? DARK : LIGHT} />
          ))}
        </g>
      </g>
      {o.pts.map((d: P, i: number) => <circle key={i} cx={x(d[0])} cy={y(d[1])} r={1.5} fill={colorAt(d[0])} />)}
      {o.red.map((d: P, i: number) => <circle key={i} cx={x(d[0])} cy={y(d[1])} r={2.5} fill={RED} />)}
      {o.dash.map((d: any, i: number) => (
        <line key={i} x1={o.ax} x2={o.right} y1={y(d[0])} y2={y(d[0])} stroke={d[1]} strokeWidth={1} strokeDasharray="6 4" />
      ))}
      <line x1={o.ax} x2={o.right} y1={y(0)} y2={y(0)} stroke="#222" strokeWidth={1.1} />
      {o.gold.map((d: P, i: number) => <circle key={i} cx={x(d[0])} cy={y(d[1])} r={2.7} fill={YELLOW} stroke="#333" strokeWidth={0.8} />)}
      <line x1={o.ax} x2={o.ax} y1={y(o.yd[0])} y2={bottom} stroke="#333" strokeWidth={1.1} />
      <line x1={o.ax} x2={o.right} y1={bottom} y2={bottom} stroke="#333" strokeWidth={1.1} />
      {o.yt.map((t: any, i: number) => (
        <g key={i}>
          <line x1={o.ax - 3} x2={o.ax} y1={y(t[0])} y2={y(t[0])} stroke="#333" />
          <T x={o.ax - 5} y={y(t[0]) + 5.5} fontSize={FS} textAnchor="end">{t[1]}</T>
        </g>
      ))}
      {[0, 10, 20, 30, 40].map((t) => (
        <T key={t} x={x(t)} y={o.xty} fontSize={FS} textAnchor="middle">{d3.format(",")(t * 1000)}</T>
      ))}
      <T x={o.titleX} y={o.titleY} fontSize={FS}>{o.title}</T>
      <T transform={`translate(${o.zx},${o.zy}) rotate(-90)`} fontSize={FS} textAnchor="middle">Z score</T>
    </g>
  );
}

function Scatter(o: any) {
  const x = d3.scaleLinear(o.xd, o.xr);
  const y = d3.scaleLinear(o.yd, o.yr);
  const ln = d3.line<P>().x((d) => x(d[0])).y((d) => y(d[1]));
  return (
    <g>
      {o.layers.map((l: any, k: number) => l.pts.map((d: P, i: number) => (
        <circle key={k + "-" + i} cx={x(d[0])} cy={y(d[1])} r={l.r ?? 0.85} fill={l.c} opacity={l.o ?? 0.75} />
      )))}
      <path d={ln(o.line)!} stroke="#1a1a1a" strokeWidth={1.2} fill="none" />
      <line x1={o.ax} x2={o.ax} y1={o.top} y2={o.axisY} stroke="#333" strokeWidth={1.1} />
      <line x1={o.ax} x2={o.right} y1={o.axisY} y2={o.axisY} stroke="#333" strokeWidth={1.1} />
      {o.yt.map((t: number) => (
        <g key={t}>
          <line x1={o.ax - 3} x2={o.ax} y1={y(t)} y2={y(t)} stroke="#333" />
          <T x={o.ax - 4} y={y(t) + 5.5} fontSize={FS} textAnchor="end">{t}</T>
        </g>
      ))}
      {o.xt.map((t: any) => (
        <g key={t[1]}>
          <line x1={x(t[0])} x2={x(t[0])} y1={o.axisY} y2={o.axisY + 3} stroke="#333" />
          <T x={x(t[0])} y={614.5} fontSize={FS} textAnchor="middle">{t[1]}</T>
        </g>
      ))}
      <T transform={`translate(${o.lx},${o.ly}) rotate(-90)`} fontSize={FS} textAnchor="middle">{o.yl}</T>
      <T x={o.rx} y={475} fontSize={FS}><tspan fontStyle="italic">r</tspan>{" = " + o.rv}</T>
      {o.xl && <T x={o.xlx} y={630.5} fontSize={FS} textAnchor="middle">{o.xl}</T>}
    </g>
  );
}

function Box(o: any) {
  const y = o.y;
  const b = o.b;
  const hw = 20.5;
  const cap = o.cap ?? 10.5;
  return (
    <g>
      <line x1={o.cx} x2={o.cx} y1={y(b.hi)} y2={y(b.q3)} stroke="#333" strokeDasharray="5 4" />
      <line x1={o.cx} x2={o.cx} y1={y(b.q1)} y2={y(b.lo)} stroke="#333" strokeDasharray="5 4" />
      <line x1={o.cx - cap} x2={o.cx + cap} y1={y(b.hi)} y2={y(b.hi)} stroke="#333" strokeWidth={1.1} />
      <line x1={o.cx - cap} x2={o.cx + cap} y1={y(b.lo)} y2={y(b.lo)} stroke="#333" strokeWidth={1.1} />
      <rect x={o.cx - hw} width={hw * 2} y={y(b.q3)} height={y(b.q1) - y(b.q3)} fill={o.fill} stroke={o.stroke} strokeWidth={o.sw ?? 1.1} />
      <line x1={o.cx - hw} x2={o.cx + hw} y1={y(b.med)} y2={y(b.med)} stroke="#222" strokeWidth={1.3} />
      {o.out.map((v: number, i: number) => <circle key={i} cx={o.cx} cy={y(v)} r={1} fill="#111" />)}
    </g>
  );
}

function Network(o: any) {
  const x = d3.scaleLinear([0, 3], [o.ox, o.ox + 1]);
  const y = d3.scaleLinear([0, 3], [o.oy, o.oy + 1]);
  const nodes = o.nodes as N[];
  const pairs = o.edgeOpacity ? nodes.flatMap((a, i) => nodes.slice(i + 1).map((b) => [a, b])) : [];
  return (
    <g>
      {(pairs as any[]).map((p, i) => (
        <line key={i} x1={x(p[0][0])} y1={y(p[0][1])} x2={x(p[1][0])} y2={y(p[1][1])} stroke="#a9a9a9" strokeWidth={o.edgeW} opacity={o.edgeOpacity} />
      ))}
      {nodes.map((n, i) => (
        <circle key={i} cx={x(n[0])} cy={y(n[1])} r={o.r * (nodeScale[n[2]] ?? 0.95)} fill={nodeFill[n[2]]} stroke={n[2] === "i" ? "#b5b3d6" : "none"} strokeWidth={0.9} />
      ))}
      {o.labels.map((l: any, i: number) => (
        <T key={i} x={x(l[1])} y={y(l[2]) + 5.5} fontSize={FS} fontStyle="italic" textAnchor="middle">{l[0]}</T>
      ))}
    </g>
  );
}

function Venn() {
  const a = { cx: 65, cy: 740.7, r: 42.5 };
  const b = { cx: 125.3, cy: 741, r: 43 };
  const c = { cx: 94, cy: 783.7, r: 43 };
  const S = "#6f6f6f";
  return (
    <g>
      <defs>
        <clipPath id="va"><circle {...a} /></clipPath>
        <clipPath id="vb"><circle {...b} /></clipPath>
        <clipPath id="vc"><circle {...c} /></clipPath>
      </defs>
      <circle {...a} fill="#dedbc9" />
      <circle {...b} fill="#6fa8d3" />
      <circle {...c} fill="#f29a94" />
      <g clipPath="url(#va)"><circle {...b} fill="#6f96b8" /><circle {...c} fill="#e9866c" /></g>
      <g clipPath="url(#vb)"><circle {...c} fill="#8f7ba8" /></g>
      <g clipPath="url(#va)"><g clipPath="url(#vb)"><circle {...c} fill="#48406a" /></g></g>
      <circle {...a} fill="none" stroke={S} />
      <circle {...b} fill="none" stroke={S} />
      <circle {...c} fill="none" stroke={S} />
      <T x={34} y={696.5} fontSize={FS} textAnchor="middle">IC5</T>
      <T x={148.5} y={696.5} fontSize={FS} textAnchor="middle">IC116</T>
      <T x={57.5} y={740} fontSize={FS} textAnchor="middle">492</T>
      <T x={140.5} y={740} fontSize={FS} textAnchor="middle">554</T>
      <T x={98} y={735} fontSize={FS} textAnchor="middle">35</T>
      <T x={98} y={758} fontSize={FS} textAnchor="middle" fontWeight="bold" fill="#111">12</T>
      <T x={75} y={770} fontSize={FS} textAnchor="middle" fontWeight="bold" fill="#111">35</T>
      <T x={122} y={770} fontSize={FS} textAnchor="middle" fontWeight="bold" fill="#111">39</T>
      <T x={97} y={804} fontSize={FS} textAnchor="middle">92</T>
      <T x={98.5} y={846.5} fontSize={FS} textAnchor="middle">TWAS-siginificant genes</T>
    </g>
  );
}

function Arrow({ x1, y1, x2, y2 }: any) {
  const ang = Math.atan2(y2 - y1, x2 - x1);
  const s = 6;
  const p = [[x2, y2], [x2 - s * Math.cos(ang - 0.45), y2 - s * Math.sin(ang - 0.45)], [x2 - s * Math.cos(ang + 0.45), y2 - s * Math.sin(ang + 0.45)]];
  return (
    <g>
      <line x1={x1} y1={y1} x2={x2} y2={y2} stroke="#777" strokeWidth={1.2} />
      <polygon points={p.map((q) => q.join(",")).join(" ")} fill="#777" />
    </g>
  );
}

const GeneText = ({ x, y, t }: any) => <T x={x} y={y + 5.5} fontSize={FS} fontStyle="italic" textAnchor="middle">{t}</T>;
const PanelLetter = ({ x, y, t }: any) => <T x={x} y={y} fontSize={23} fontWeight="bold" fill="#111">{t}</T>;
const LogLabel = (p: any) => (
  <T {...p} fontSize={FS} textAnchor="middle">Log<tspan dy={3} fontSize={14.5}>2</tspan><tspan dy={-3}> (FPKM)</tspan></T>
);

export default function App() {
  const yBoxL = d3.scaleLinear([0, 2.5], [820.7, 690.3]);
  const yBoxR = d3.scaleLinear([3.2, 4.4], [814.7, 699.7]);
  return (
    <svg width={1080} height={863} viewBox="0 0 1080 863" style={{ position: "absolute", left: 0, top: 0, background: "#fff" }}>
      <defs>
        <radialGradient id="blob">
          <stop offset="0%" stopColor="#c2c2c2" />
          <stop offset="60%" stopColor="#d2d2d2" />
          <stop offset="90%" stopColor="#e7e7e7" />
          <stop offset="100%" stopColor="#fbfbfb" />
        </radialGradient>
        <filter id="rough" x="-5%" y="-15%" width="110%" height="130%">
          <feTurbulence type="fractalNoise" baseFrequency="0.45" numOctaves="2" seed="4" />
          <feDisplacementMap in="SourceGraphic" scale="9" xChannelSelector="R" yChannelSelector="G" />
        </filter>
      </defs>

      <T x={1001} y={35.5} fontSize={24} fontWeight="bold" fill="#d6dac8" textLength={42} lengthAdjust="spacingAndGlyphs">JIPB</T>
      <path d={d3.line()([[1049, 30], [1055, 18], [1067, 11], [1065, 24], [1056, 30], [1049, 30]] as any)!} fill="#e2e5d8" />

      <PanelLetter x={4} y={22} t="A" />
      <PanelLetter x={5} y={458} t="B" />
      <PanelLetter x={5} y={680} t="C" />
      <PanelLetter x={373} y={458} t="D" />
      <PanelLetter x={536.5} y={458} t="E" />
      <PanelLetter x={714.5} y={458} t="F" />
      <PanelLetter x={894.5} y={458} t="G" />

      <Manhattan id="cnn" title="NN" titleX={59} titleY={42} zx={17} zy={109} ax={59.2} right={525} axisY={190} xty={212}
        xr={[79.9, 482]} yd={[5, -5]} yr={[48.3, 189]} bounds={chromLeft} top={nnTop} bot={nnBot} pts={nnPts} red={[]} gold={[]}
        dash={[[5.07, "#222"], [-4.9, "#222"]]} yt={[[5, "5.0"], [2.5, "2.5"], [0, "0"], [-2.5, "−2.5"], [-5, "−5.0"]]} />
      <Manhattan id="cnfe" title="NFE" titleX={598.5} titleY={40} zx={561} zy={117} ax={594.4} right={1075.5} axisY={186.7} xty={210}
        xr={[616.4, 1029.7]} yd={[6, -4]} yr={[46.7, 177.7]} bounds={chromRight} top={nfeTop} bot={nfeBot} pts={nfePts} red={nfeRed} gold={nfeGold}
        dash={[[3.72, "#222"], [-3.72, "#222"]]} yt={[[6, "6"], [4, "4"], [2, "2"], [0, "0"], [-2, "−2"], [-4, "−4"]]} />
      <Manhattan id="cnw" title="NW" titleX={58} titleY={241} zx={17} zy={311} ax={58.5} right={539} axisY={385} xty={407.5}
        xr={[79.9, 493.8]} yd={[3, -6]} yr={[272.7, 377.7]} bounds={chromLeft} top={nwTop} bot={nwBot} pts={nwPts} red={nwRed} gold={nwGold}
        dash={[[3.3, "#999"], [-3.3, "#222"]]} yt={[[3, "3"], [0, "0"], [-3, "−3"], [-6, "−6"]]} />
      <Manhattan id="cnfp" title="NFP" titleX={598.5} titleY={241} zx={561} zy={317} ax={594.4} right={1075.5} axisY={384.3} xty={407.5}
        xr={[616.4, 1029.7]} yd={[6, -3]} yr={[244, 352]} bounds={chromRight} top={nfpTop} bot={nfpBot} pts={nfpPts} red={nfpRed} gold={nfpGold}
        dash={[[3.1, "#222"], [-3.1, "#444"]]} yt={[[6, "6"], [3, "3"], [0, "0"], [-3, "−3"]]} />

      <T x={285.8} y={432.5} fontSize={FS} textAnchor="middle">Gene index</T>
      <T x={834} y={432.5} fontSize={FS} textAnchor="middle">Gene index</T>

      <GeneText x={803.4} y={32.7} t="NPD" /><Arrow x1={805} y1={43} x2={818} y2={49} />
      <GeneText x={912} y={40} t="SYP132" /><Arrow x1={912} y1={46} x2={906.7} y2={58} />
      <GeneText x={135} y={377.7} t="NLP1" /><Arrow x1={144} y1={368} x2={144} y2={357} />
      <GeneText x={273.8} y={378} t="DMI2" /><Arrow x1={277} y1={367} x2={277} y2={357} />
      <GeneText x={340} y={379} t="GLE1" /><Arrow x1={335.7} y1={368} x2={330.6} y2={361} />
      <GeneText x={423} y={378} t="DEX" /><Arrow x1={407} y1={366} x2={401} y2={358} />
      <GeneText x={836} y={238} t="LbC3" /><Arrow x1={837} y1={248} x2={833.4} y2={262} />
      <GeneText x={1045} y={246} t="DME" /><Arrow x1={1051.4} y1={253} x2={1046} y2={265} />
      <GeneText x={765.5} y={340.7} t="GmVTL1" />
      <GeneText x={790} y={377} t="MATE1" /><Arrow x1={796.5} y1={368} x2={800} y2={358} />

      <Scatter xd={[0, 1.5]} xr={[45.7, 161]} yd={[0, 40]} yr={[588, 478.7]} ax={44.7} right={166} top={477} axisY={590.3}
        layers={[{ pts: b1Pts, c: "#444" }]} line={lineB1} yt={[0, 10, 20, 30, 40]} xt={[[0, "0"], [.5, "0.5"], [1, "1.0"], [1.5, "1.5"]]}
        lx={15} ly={517} yl="NFE" rx={47} rv="0.55" xl="IC116 expresssion pattern" xlx={102.7} />
      <Scatter xd={[0, 1.6]} xr={[216.7, 350]} yd={[0, 40]} yr={[588, 478.7]} ax={216.7} right={351} top={477} axisY={590.3}
        layers={[{ pts: b2Pts, c: "#444" }]} line={lineB2} yt={[0, 10, 20, 30, 40]} xt={[[0, "0"], [.4, "0.4"], [.8, "0.8"], [1.2, "1.2"], [1.6, "1.6"]]}
        lx={186} ly={517} yl="NFE" rx={227} rv="0.58" xl="IC5 expresssion pattern" xlx={294} />
      <Scatter xd={[0, 2]} xr={[416.5, 503.2]} yd={[0, 40]} yr={[592.3, 476.7]} ax={413} right={526} top={475} axisY={594}
        layers={[{ pts: dPts, c: "#e79aa5" }]} line={lineD} yt={[0, 10, 20, 30, 40]} xt={[[0, "0"], [1, "1"], [2, "2"]]}
        lx={382} ly={525} yl="NFE" rx={421.7} rv="0.38" />
      <Scatter xd={[3, 4.5]} xr={[583.4, 688.4]} yd={[0, 40]} yr={[591.3, 477]} ax={572.3} right={686} top={475} axisY={594}
        layers={[{ pts: eBlue, c: "#5d9ec4" }, { pts: ePink, c: "#b9647f" }, { pts: eGrey, c: "#888" }]} line={lineE} yt={[0, 10, 20, 30, 40]} xt={[[3, "3.0"], [3.5, "3.5"], [4, "4.0"], [4.5, "4.5"]]}
        lx={546} ly={523} yl="NFE" rx={584.3} rv="0.41" />
      <Scatter xd={[1.8, 3.0]} xr={[756.5, 861]} yd={[8, 2]} yr={[492.7, 570.7]} ax={742.6} right={870.5} top={476.7} axisY={592.3}
        layers={[{ pts: fPts, c: "#555" }]} line={lineF} yt={[2, 4, 6, 8]} xt={[[1.8, "1.8"], [2.2, "2.2"], [2.6, "2.6"], [3, "3.0"]]}
        lx={724} ly={537} yl="NFP" rx={747} rv="−0.27" xl="IC34 expresssion pattern" xlx={800} />
      <Scatter xd={[.5, 2]} xr={[950, 1034]} yd={[8, 2]} yr={[492.7, 570.7]} ax={921.7} right={1048.3} top={476.7} axisY={592.3}
        layers={[{ pts: gPts, c: "#555" }]} line={lineG} yt={[2, 4, 6, 8]} xt={[[.5, "0.5"], [1, "1.0"], [1.5, "1.5"], [2, "2.0"]]}
        lx={902} ly={537} yl="NFP" rx={928} rv="0.289" xl="IC83 expresssion pattern" xlx={989.8} />

      <LogLabel x={465} y={634} />
      <T x={469.4} y={653.5} fontSize={FS} textAnchor="middle">(Glyma.06G045800)</T>
      <LogLabel x={623} y={634} />
      <T x={626.4} y={653.5} fontSize={FS} textAnchor="middle">(Glyma.13G307600)</T>

      <Venn />

      <Network nodes={net1Nodes} labels={net1Labels} ox={0} oy={655} r={3} edgeOpacity={0.24} edgeW={0.5} />

      {/* left box plot */}
      <line x1={427.3} x2={427.3} y1={690.3} y2={820.7} stroke="#333" strokeWidth={1.1} />
      {[[0, "0"], [.5, "0.5"], [1, "1.0"], [1.5, "1.5"], [2, "2.0"], [2.5, "2.5"]].map((t: any) => (
        <g key={t[1]}>
          <line x1={424} x2={427.3} y1={yBoxL(t[0])} y2={yBoxL(t[0])} stroke="#333" />
          <T x={423} y={yBoxL(t[0]) + 5.5} fontSize={FS} textAnchor="end">{t[1]}</T>
        </g>
      ))}
      <Box y={yBoxL} cx={457.3} b={boxLeftWS} out={outLeftWS} fill="#de7268" stroke="#444" />
      <Box y={yBoxL} cx={508.7} b={boxLeftCS} out={outLeftCS} fill="#de7268" stroke="#222" sw={1.6} />
      <path d="M457.3,829.5V826.3H508.7V829.5" fill="none" stroke="#444" strokeWidth={1.1} />
      <T x={457.3} y={849} fontSize={FS} textAnchor="middle">WS</T>
      <T x={509.7} y={849} fontSize={FS} textAnchor="middle">CS</T>
      <LogLabel transform="translate(396,755) rotate(-90)" />
      <T x={510} y={682} fontSize={13} textAnchor="middle" fill="#b03a5b">**</T>

      {/* right box plot */}
      <line x1={591.7} x2={591.7} y1={699.7} y2={820} stroke="#333" strokeWidth={1.1} />
      {[3.2, 3.6, 4.0, 4.4].map((t) => (
        <g key={t}>
          <line x1={588} x2={591.7} y1={yBoxR(t)} y2={yBoxR(t)} stroke="#333" />
          <T x={587} y={yBoxR(t) + 5.5} fontSize={FS} textAnchor="end">{t.toFixed(1)}</T>
        </g>
      ))}
      <Box y={yBoxR} cx={621.3} b={boxRightWS} out={outRightWS} fill="#de7268" stroke="#666" sw={1.4} />
      <Box y={yBoxR} cx={672.3} b={boxRightCS} out={[]} fill="#3678a8" stroke="#2b6792" sw={1.2} />
      <path d="M621.3,829.5V826.3H672.3V829.5" fill="none" stroke="#444" strokeWidth={1.1} />
      <T x={621.3} y={849} fontSize={FS} textAnchor="middle">WS</T>
      <T x={673.3} y={849} fontSize={FS} textAnchor="middle">CS</T>
      <LogLabel transform="translate(556,755) rotate(-90)" />
      <T x={675} y={717} fontSize={13} textAnchor="middle" fill="#b03a5b">**</T>

      <Network nodes={net2Nodes} labels={net2Labels} ox={700} oy={655} r={3.7} edgeOpacity={0.55} edgeW={0.7} />

      <circle cx={985} cy={767} r={90} fill="url(#blob)" />
      <Network nodes={net3Nodes} labels={net3Labels} ox={700} oy={655} r={2.1} edgeOpacity={0} edgeW={0} />
    </svg>
  );
}
